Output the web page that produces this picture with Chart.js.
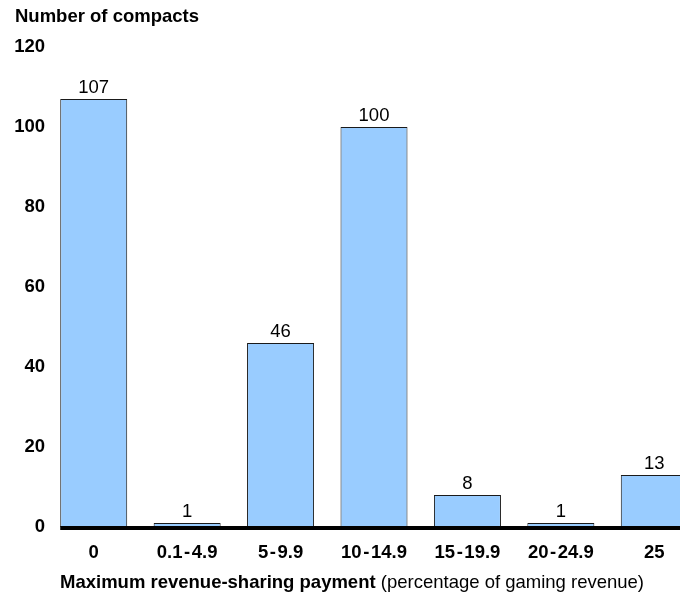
<!DOCTYPE html>
<html>
<head>
<meta charset="utf-8">
<script src="https://cdn.jsdelivr.net/npm/chart.js@4"></script>
<style>
  html, body { margin: 0; padding: 0; background: #fff; overflow: hidden; }
  #wrap { position: relative; width: 701px; height: 597px; }
</style>
</head>
<body>
<div id="wrap"><canvas id="c" width="701" height="597"></canvas></div>
<script>
// Compacts grouped by maximum revenue-sharing payment
const categories = ['0', '0.1\u200a-\u200a4.9', '5\u200a-\u200a9.9', '10\u200a-\u200a14.9', '15\u200a-\u200a19.9', '20\u200a-\u200a24.9', '25'];
const compacts = [107, 1, 46, 100, 8, 1, 13];
const yTicks = [0, 20, 40, 60, 80, 100, 120];

const FONT = '"Liberation Sans", Arial, Helvetica, sans-serif';
const SIZE = 18.5;

// Heading, bar value labels, thick baseline and two-part axis title
const decorations = {
  id: 'decorations',
  afterDatasetsDraw(chart) {
    const ctx = chart.ctx;
    const meta = chart.getDatasetMeta(0);
    const y0 = chart.scales.y.getPixelForValue(0);

    ctx.save();
    // baseline
    const firstBar = meta.data[0];
    ctx.fillStyle = '#000';
    ctx.fillRect(firstBar.x - firstBar.width / 2, y0 - 1, chart.width, 4);

    // value labels
    ctx.font = SIZE + 'px ' + FONT;
    ctx.textAlign = 'center';
    ctx.textBaseline = 'bottom';
    meta.data.forEach((bar, i) => {
      ctx.fillText(String(compacts[i]), bar.x, bar.y - 2);
    });

    // heading
    ctx.font = 'bold ' + SIZE + 'px ' + FONT;
    ctx.textAlign = 'left';
    ctx.textBaseline = 'middle';
    ctx.fillText('Number of compacts', 15, 17);

    // x axis title: bold lead, regular remainder
    const boldPart = 'Maximum revenue-sharing payment';
    const plainPart = ' (percentage of gaming revenue)';
    ctx.font = 'bold ' + SIZE + 'px ' + FONT;
    const wBold = ctx.measureText(boldPart).width;
    ctx.fillText(boldPart, 60, 583);
    ctx.font = SIZE + 'px ' + FONT;
    ctx.fillText(plainPart, 60 + wBold, 583);
    ctx.restore();
  }
};

new Chart(document.getElementById('c'), {
  type: 'bar',
  data: {
    labels: categories,
    datasets: [{
      data: compacts,
      backgroundColor: '#99ccff',
      borderColor: '#1a1a1a',
      borderWidth: 1,
      categoryPercentage: 1,
      barPercentage: 0.717
    }]
  },
  options: {
    responsive: false,
    animation: false,
    layout: { padding: { top: 47, right: 0, bottom: 0, left: 0 } },
    plugins: { legend: { display: false }, tooltip: { enabled: false }, title: { display: false } },
    scales: {
      x: {
        grid: { display: false, drawTicks: false },
        border: { display: false },
        ticks: {
          color: '#000',
          padding: 15,
          font: { family: FONT, size: SIZE, weight: 'bold' },
          maxRotation: 0,
          autoSkip: false
        },
        afterFit(scale) { scale.height = 70; }
      },
      y: {
        min: 0,
        max: 120,
        grid: { display: false, drawTicks: false },
        border: { display: false },
        afterBuildTicks(scale) { scale.ticks = yTicks.map(v => ({ value: v })); },
        ticks: {
          color: '#000',
          padding: 2,
          font: { family: FONT, size: SIZE, weight: 'bold' }
        },
        afterFit(scale) { scale.width = 47; }
      }
    }
  },
  plugins: [decorations]
});
</script>
</body>
</html>
